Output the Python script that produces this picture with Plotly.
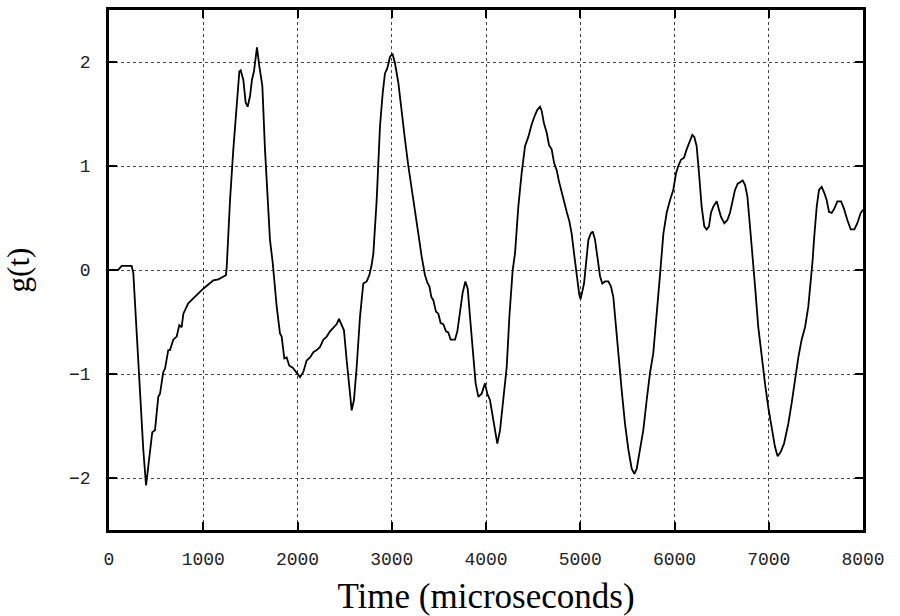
import plotly.graph_objects as go

# Time (microseconds) and g(t)
time_us = [
    0, 95, 135, 240, 258, 294, 329, 364, 393, 428, 459, 488, 523, 541, 576, 594,
    629, 647, 682, 718, 746, 771, 789, 841, 894, 947, 1000, 1054, 1107, 1160, 1213, 1241,
    1249, 1284, 1319, 1355, 1383, 1397, 1425, 1450, 1471, 1496, 1517, 1538, 1570, 1595,
    1627, 1655, 1690, 1708, 1737, 1761, 1779, 1814, 1832, 1860, 1885, 1913, 1949, 1984,
    2027, 2062, 2097, 2133, 2168, 2204, 2239, 2274, 2310, 2345, 2380, 2416, 2440, 2469,
    2493, 2522, 2550, 2575, 2599, 2628, 2663, 2698, 2734, 2762, 2787, 2805, 2840, 2875,
    2904, 2928, 2953, 2981, 3008, 3034, 3070, 3105, 3141, 3176, 3211, 3247, 3282, 3317,
    3353, 3377, 3400, 3420, 3441, 3469, 3494, 3519, 3547, 3576, 3600, 3625, 3671, 3696,
    3724, 3752, 3781, 3806, 3830, 3859, 3890, 3919, 3954, 3989, 4014, 4042, 4077, 4120,
    4149, 4184, 4220, 4248, 4283, 4308, 4343, 4378, 4414, 4449, 4484, 4520, 4545, 4573,
    4591, 4615, 4644, 4669, 4697, 4722, 4750, 4775, 4803, 4828, 4856, 4884, 4909, 4934,
    4962, 4990, 5004, 5040, 5060, 5086, 5111, 5132, 5157, 5182, 5210, 5234, 5263, 5298,
    5326, 5351, 5369, 5405, 5440, 5475, 5511, 5546, 5574, 5599, 5634, 5669, 5705, 5740,
    5775, 5811, 5846, 5882, 5917, 5952, 5987, 6016, 6040, 6069, 6101, 6129, 6157, 6189,
    6210, 6235, 6260, 6288, 6316, 6341, 6366, 6387, 6412, 6448, 6472, 6493, 6529, 6561,
    6589, 6614, 6642, 6671, 6695, 6724, 6748, 6773, 6801, 6830, 6854, 6889, 6925, 6960,
    6995, 7031, 7066, 7094, 7126, 7162, 7207, 7243, 7278, 7314, 7349, 7385, 7420, 7445,
    7466, 7480, 7509, 7533, 7562, 7590, 7615, 7639, 7668, 7696, 7728, 7767, 7798, 7834,
    7870, 7908, 7940, 7976, 8000,
]
g_values = [
    0.00, 0.00, 0.04, 0.04, -0.03, -0.61, -1.16, -1.73, -2.07, -1.80, -1.56, -1.54, -1.22, -1.19, -0.98, -0.95,
    -0.77, -0.77, -0.67, -0.64, -0.53, -0.55, -0.42, -0.32, -0.27, -0.22, -0.18, -0.14, -0.10, -0.09, -0.06, -0.05,
    0.03, 0.67, 1.16, 1.64, 1.91, 1.92, 1.83, 1.61, 1.57, 1.67, 1.83, 1.91, 2.14, 1.96,
    1.77, 1.16, 0.51, 0.29, 0.07, -0.17, -0.35, -0.61, -0.64, -0.85, -0.84, -0.92, -0.94, -0.98,
    -1.03, -0.98, -0.87, -0.84, -0.79, -0.77, -0.74, -0.67, -0.64, -0.59, -0.55, -0.52, -0.47, -0.53,
    -0.58, -0.87, -1.16, -1.35, -1.25, -0.93, -0.45, -0.13, -0.11, -0.05, 0.05, 0.16, 0.67, 1.38,
    1.70, 1.89, 1.94, 2.05, 2.08, 1.99, 1.80, 1.51, 1.25, 1.00, 0.77, 0.55, 0.35, 0.13,
    -0.05, -0.12, -0.16, -0.26, -0.29, -0.40, -0.42, -0.51, -0.52, -0.59, -0.60, -0.67, -0.67, -0.59,
    -0.42, -0.22, -0.11, -0.18, -0.45, -0.77, -1.09, -1.22, -1.19, -1.09, -1.19, -1.25, -1.45, -1.67,
    -1.54, -1.25, -0.93, -0.45, 0.00, 0.16, 0.61, 0.93, 1.19, 1.28, 1.40, 1.49, 1.54, 1.57,
    1.53, 1.41, 1.32, 1.20, 1.16, 1.03, 0.96, 0.85, 0.74, 0.64, 0.56, 0.47, 0.35, 0.16,
    -0.06, -0.24, -0.28, -0.13, 0.05, 0.29, 0.35, 0.37, 0.29, 0.10, -0.06, -0.13, -0.11, -0.11,
    -0.16, -0.26, -0.45, -0.77, -1.16, -1.48, -1.73, -1.91, -1.96, -1.91, -1.73, -1.54, -1.25, -0.99,
    -0.80, -0.45, -0.05, 0.35, 0.55, 0.67, 0.77, 0.93, 1.00, 1.06, 1.08, 1.16, 1.22, 1.30,
    1.28, 1.19, 0.93, 0.61, 0.42, 0.39, 0.42, 0.55, 0.61, 0.66, 0.58, 0.51, 0.45, 0.48,
    0.55, 0.67, 0.77, 0.83, 0.84, 0.86, 0.82, 0.71, 0.42, 0.13, -0.15, -0.55, -0.84, -1.09,
    -1.32, -1.51, -1.70, -1.79, -1.75, -1.67, -1.48, -1.28, -1.06, -0.84, -0.67, -0.55, -0.35, -0.13,
    0.10, 0.29, 0.61, 0.77, 0.80, 0.74, 0.67, 0.56, 0.55, 0.59, 0.66, 0.66, 0.59, 0.48,
    0.39, 0.39, 0.45, 0.55, 0.58,
]

x_ticks = [0, 1000, 2000, 3000, 4000, 5000, 6000, 7000, 8000]
y_ticks = [-2, -1, 0, 1, 2]

fig = go.Figure()
fig.add_trace(go.Scatter(
    x=time_us, y=g_values, mode="lines",
    line=dict(color="black", width=1.8), showlegend=False,
))

tick_font = dict(family="Liberation Mono, Courier New, monospace", size=18, color="#222222")
xtitle_font = dict(family="Liberation Serif, Times New Roman, serif", size=35, color="black")
ytitle_font = dict(family="Liberation Serif, Times New Roman, serif", size=31, color="black")

axis_common = dict(
    showline=True, mirror="ticks", linecolor="black", linewidth=2.5,
    ticks="inside", ticklen=8, tickwidth=2, tickcolor="black",
    showgrid=True, gridcolor="#444444", gridwidth=1, griddash="dot",
    zeroline=False, tickfont=tick_font, automargin=False,
)

fig.update_xaxes(
    range=[0, 8000], tickvals=x_ticks, ticktext=[str(v) for v in x_ticks],
    ticklabelstandoff=11,
    title=dict(text="Time (microseconds)", font=xtitle_font, standoff=18),
    **axis_common,
)
fig.update_yaxes(
    range=[-2.5, 2.5], tickvals=y_ticks,
    ticklabelstandoff=12,
    title=dict(text="g(t)", font=ytitle_font, standoff=31),
    **axis_common,
)

fig.update_layout(
    width=900, height=616,
    margin=dict(l=109, r=37, t=10, b=86, pad=0),
    paper_bgcolor="white", plot_bgcolor="white",
)

fig.write_html("out.html")
